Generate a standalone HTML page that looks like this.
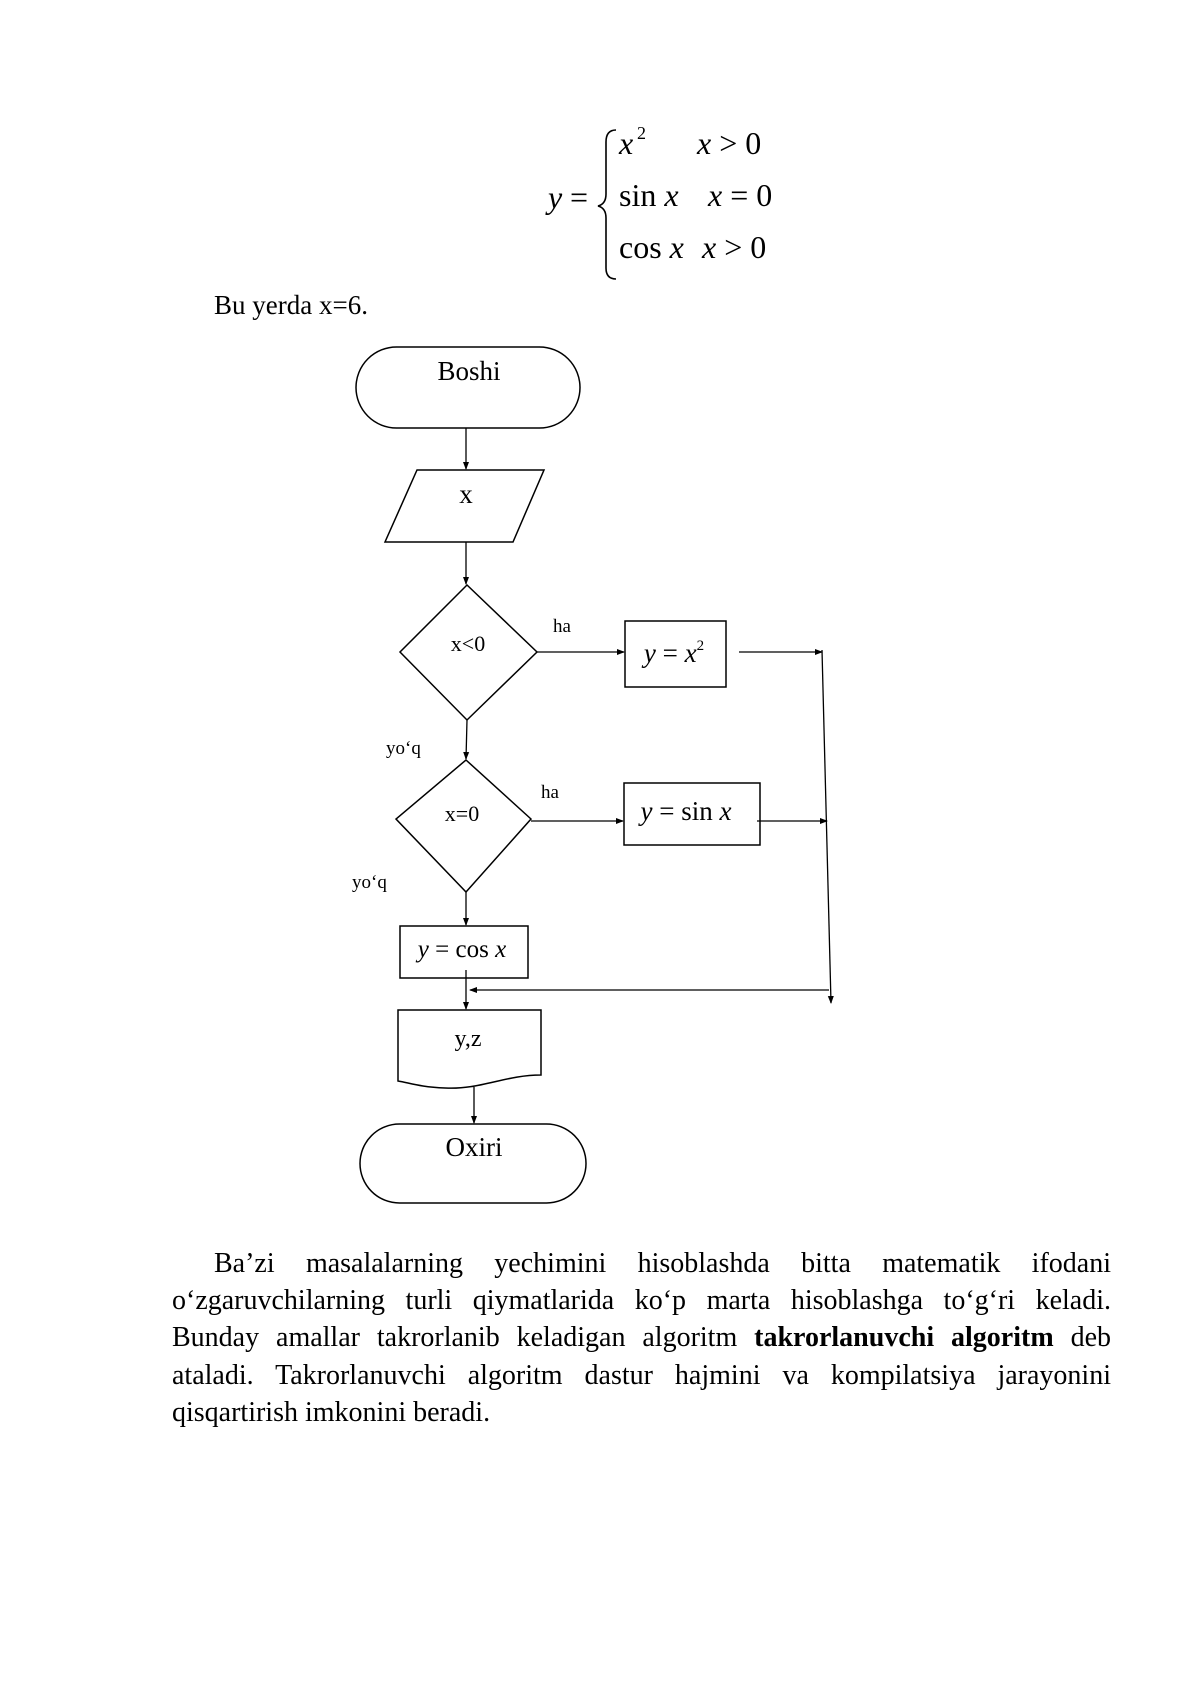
<!DOCTYPE html>
<html><head><meta charset="utf-8"><style>
body{margin:0;background:#fff;}
.pg{position:relative;width:1190px;height:1684px;overflow:hidden;font-family:"Liberation Serif",serif;color:#000;}
svg{position:absolute;left:0;top:0;}
.ln{position:absolute;left:172px;width:939px;font-size:28px;line-height:30px;text-align:justify;text-align-last:justify;white-space:nowrap;}
</style></head><body><div class="pg">
<svg width="1190" height="1684" viewBox="0 0 1190 1684" font-family="Liberation Serif, serif">
<defs><marker id="a" markerWidth="8" markerHeight="8" refX="7" refY="4" orient="auto" markerUnits="userSpaceOnUse"><path d="M0,1 L8,4 L0,7 z" fill="#000"/></marker></defs>
<g font-size="32">
<text x="548" y="208" font-style="italic">y</text><text x="570" y="208">=</text>
<path d="M616,130 Q606,130 606,142 L606,194 Q606,204 598,206 Q606,208 606,218 L606,268 Q606,279 616,279" fill="none" stroke="#000" stroke-width="1.6"/>
<text x="619" y="154" font-style="italic">x</text><text x="637" y="139" font-size="18">2</text>
<text x="697" y="154"><tspan font-style="italic">x</tspan> &gt; 0</text>
<text x="619" y="206">sin <tspan font-style="italic">x</tspan></text>
<text x="708" y="206"><tspan font-style="italic">x</tspan> = 0</text>
<text x="619" y="258">cos <tspan font-style="italic">x</tspan></text>
<text x="702" y="258"><tspan font-style="italic">x</tspan> &gt; 0</text>
</g>
<text x="214" y="314" font-size="27">Bu yerda x=6.</text>
<g fill="none" stroke="#000" stroke-width="1.5">
<rect x="356" y="347" width="224" height="81" rx="40.5"/>
<polygon points="417,470 544,470 513,542 385,542"/>
<polygon points="467,585 537,652 467,720 400,652"/>
<rect x="625" y="621" width="101" height="66"/>
<polygon points="466,760 531,819 466,892 396,819"/>
<rect x="624" y="783" width="136" height="62"/>
<rect x="400" y="926" width="128" height="52"/>
<path d="M398,1010 L541,1010 L541,1075 C505,1075 480,1090 445,1088 C420,1087 410,1083 398,1081 Z"/>
<rect x="360" y="1124" width="226" height="79" rx="39.5"/>
</g>
<g stroke="#000" stroke-width="1.3" fill="none">
<line x1="466" y1="428" x2="466" y2="469" marker-end="url(#a)"/>
<line x1="466" y1="542" x2="466" y2="584" marker-end="url(#a)"/>
<line x1="537" y1="652" x2="624" y2="652" marker-end="url(#a)"/>
<line x1="739" y1="652" x2="822" y2="652" marker-end="url(#a)"/>
<line x1="822" y1="650" x2="831" y2="1003" marker-end="url(#a)"/>
<line x1="467" y1="720" x2="466" y2="759" marker-end="url(#a)"/>
<line x1="531" y1="821" x2="623" y2="821" marker-end="url(#a)"/>
<line x1="757" y1="821" x2="827" y2="821" marker-end="url(#a)"/>
<line x1="466" y1="892" x2="466" y2="925" marker-end="url(#a)"/>
<line x1="466" y1="970" x2="466" y2="1009" marker-end="url(#a)"/>
<line x1="829" y1="990" x2="470" y2="990" marker-end="url(#a)"/>
<line x1="474" y1="1087" x2="474" y2="1123" marker-end="url(#a)"/>
</g>
<g font-size="27" text-anchor="middle">
<text x="469" y="380">Boshi</text>
<text x="466" y="503">x</text>
<text x="468" y="651" font-size="22">x&lt;0</text>
<text x="462" y="821" font-size="22">x=0</text>
<text x="674" y="662"><tspan font-style="italic">y</tspan> = <tspan font-style="italic">x</tspan><tspan font-size="15" dy="-12">2</tspan></text>
<text x="686" y="820"><tspan font-style="italic">y</tspan> = sin <tspan font-style="italic">x</tspan></text>
<text x="462" y="957" font-size="25"><tspan font-style="italic">y</tspan> = cos <tspan font-style="italic">x</tspan></text>
<text x="468" y="1046" font-size="24">y,z</text>
<text x="474" y="1156">Oxiri</text>
</g>
<g font-size="19">
<text x="553" y="632">ha</text>
<text x="541" y="798">ha</text>
<text x="386" y="754">yo‘q</text>
<text x="352" y="888">yo‘q</text>
</g>
</svg>
<div class="ln" style="top:1249px;left:214px;width:897px;">Ba’zi masalalarning yechimini hisoblashda bitta matematik ifodani</div>
<div class="ln" style="top:1286px;">o‘zgaruvchilarning turli qiymatlarida ko‘p marta hisoblashga to‘g‘ri keladi.</div>
<div class="ln" style="top:1323px;">Bunday amallar takrorlanib keladigan algoritm <b>takrorlanuvchi algoritm</b> deb</div>
<div class="ln" style="top:1361px;">ataladi. Takrorlanuvchi algoritm dastur hajmini va kompilatsiya jarayonini</div>
<div class="ln" style="top:1398px;text-align-last:left;">qisqartirish imkonini beradi.</div>
</div></body></html>
